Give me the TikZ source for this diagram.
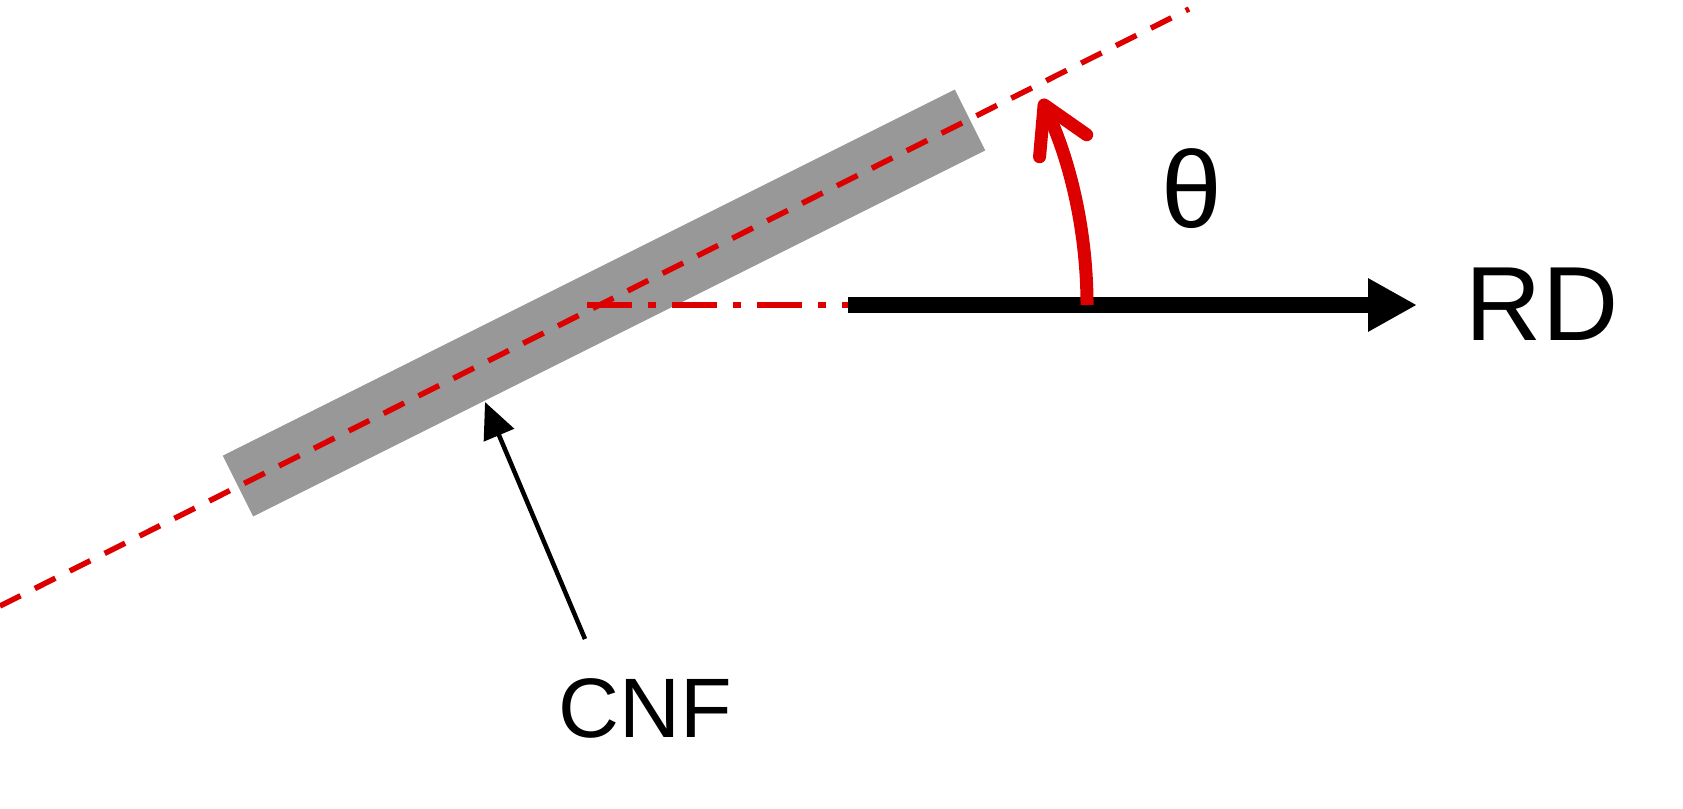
\documentclass[tikz,border=0pt]{standalone}
\usepackage{fontspec}
\setmainfont{Liberation Sans}
\usetikzlibrary{arrows.meta}
\definecolor{cnfred}{RGB}{221,0,0}
\definecolor{cnfgray}{RGB}{152,152,152}
\begin{document}
\begin{tikzpicture}[x=0.01cm,y=0.01cm,
  axisline/.style={cnfred, line width=0.055cm, dash pattern=on 0.23cm off 0.16cm},
  refline/.style={cnfred, line width=0.055cm, dash pattern=on 0.45cm off 0.16cm on 0.08cm off 0.16cm},
  rdarrow/.style={line width=0.16cm, -{Triangle[length=0.49cm,width=0.5cm]}},
  anglearrow/.style={cnfred, line width=0.13cm, -{Straight Barb[length=0.45cm,width=0.52cm,round]}},
  pointer/.style={line width=0.045cm, -{Triangle[length=0.36cm,width=0.32cm]}},
  lbl/.style={inner sep=0pt, text=black},
]
\useasboundingbox (0,0) rectangle (1683,808);
% fibre bar
\node[fill=cnfgray, minimum width=8.18cm, minimum height=0.68cm, inner sep=0pt, rotate=26.57] (bar) at (604,505) {};
% fibre axis
\coordinate (lineA) at (0,202);
\coordinate (lineB) at (1189,799);
\draw[axisline] (lineA) -- (lineB);
% reference direction
\coordinate (pivot) at (600,503);
\coordinate (refstart) at (587,503);
\coordinate (rdstart) at (848,503);
\coordinate (rdtip) at (1417,503);
\draw[refline] (refstart) -- (rdstart);
\draw[rdarrow] (rdstart) -- (rdtip);
\node[lbl, anchor=base, font=\fontsize{30}{36}\selectfont] (rd) at (1542,468) {RD};
% angle
\coordinate (arcstart) at (1087,503);
\draw[anglearrow] (arcstart) arc[start angle=0, end angle=25, radius=4.87cm];
\node[lbl, anchor=base, font=\fontsize{31}{37}\selectfont] (theta) at (1192,581) {θ};
% CNF label
\node[lbl, anchor=base, font=\fontsize{24}{29}\selectfont] (cnf) at (645,71) {CNF};
\coordinate (pointerfoot) at (585,169);
\coordinate (bartouch) at (485,406);
\draw[pointer] (pointerfoot) -- (bartouch);
\end{tikzpicture}
\end{document}
